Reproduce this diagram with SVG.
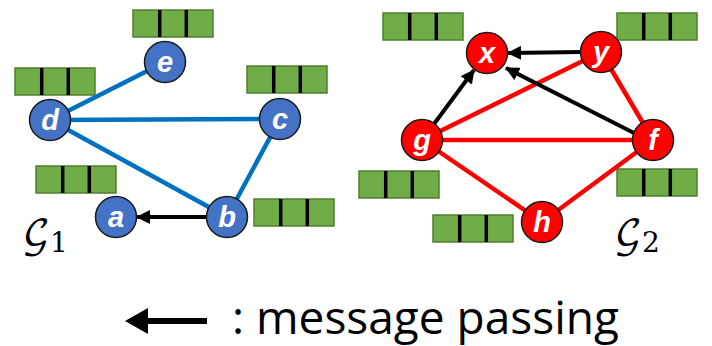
<svg xmlns="http://www.w3.org/2000/svg" width="712" height="346" viewBox="0 0 712 346">
<defs>
<marker id="ah" markerUnits="userSpaceOnUse" markerWidth="14" markerHeight="14" viewBox="0 0 14 14" refX="13" refY="7" orient="auto"><path d="M0,0 L14,7 L0,14 Z" fill="#000"/></marker>
<g id="vec"><rect x="0" y="0" width="80" height="27" fill="#70AD47" stroke="#507E32" stroke-width="1.5"/><line x1="26.7" y1="0" x2="26.7" y2="27" stroke="#000" stroke-width="3.5"/><line x1="53.3" y1="0" x2="53.3" y2="27" stroke="#000" stroke-width="3.5"/></g>
</defs>
<style>
.be{stroke:#0070C0;stroke-width:4.5;fill:none}
.re{stroke:#FF0000;stroke-width:4.5;fill:none}
.ar{stroke:#000;stroke-width:4;fill:none;marker-end:url(#ah)}
.bn{fill:#4472C4;stroke:#1a1a1a;stroke-width:1.5}
.rn{fill:#FF0000;stroke:#1a1a1a;stroke-width:1.5}
.lb{font-family:"Liberation Sans",Arial,sans-serif;font-weight:bold;font-style:italic;font-size:29px;fill:#fff;text-anchor:middle}
.gl{font-family:"DejaVu Math TeX Gyre","DejaVu Serif",serif;font-size:37px;fill:#000}
.cap{font-family:"Open Sans","Liberation Sans",sans-serif;font-size:46px;fill:#000}
</style>
<g id="vectors">
<use href="#vec" x="133" y="10"/>
<use href="#vec" x="15" y="68"/>
<use href="#vec" x="247" y="66"/>
<use href="#vec" x="36" y="166"/>
<use href="#vec" x="254" y="199"/>
<use href="#vec" x="383" y="13"/>
<use href="#vec" x="617" y="13"/>
<use href="#vec" x="359" y="171"/>
<use href="#vec" x="617" y="169"/>
<use href="#vec" x="433" y="215"/>
</g>
<g id="connectors">
<line class="be" x1="165" y1="62" x2="50" y2="120"/>
<line class="be" x1="50" y1="120" x2="280" y2="119"/>
<line class="be" x1="50" y1="120" x2="227" y2="217"/>
<line class="be" x1="280" y1="119" x2="227" y2="217"/>
<line class="ar" x1="208" y1="217" x2="137" y2="217"/>
<line class="re" x1="422" y1="140" x2="601" y2="52"/>
<line class="re" x1="422" y1="140" x2="653" y2="140"/>
<line class="re" x1="422" y1="140" x2="542" y2="222"/>
<line class="re" x1="542" y1="222" x2="653" y2="140"/>
<line class="re" x1="601" y1="52" x2="653" y2="140"/>
<line class="ar" x1="581" y1="52" x2="508" y2="53"/>
<line class="ar" x1="434" y1="124" x2="474" y2="70"/>
<line class="ar" x1="636" y1="134" x2="506" y2="68"/>
</g>
<g id="node-a"><circle class="bn" cx="116" cy="217" r="20.5"/><text class="lb" x="116" y="227">a</text></g>
<g id="node-b"><circle class="bn" cx="227" cy="217" r="20.5"/><text class="lb" x="227" y="227">b</text></g>
<g id="node-c"><circle class="bn" cx="280" cy="119" r="20.5"/><text class="lb" x="280" y="129">c</text></g>
<g id="node-d"><circle class="bn" cx="50" cy="120" r="20.5"/><text class="lb" x="50" y="130">d</text></g>
<g id="node-e"><circle class="bn" cx="165" cy="62" r="20.5"/><text class="lb" x="165" y="72">e</text></g>
<g id="node-x"><circle class="rn" cx="487" cy="53" r="20.5"/><text class="lb" x="487" y="63">x</text></g>
<g id="node-y"><circle class="rn" cx="601" cy="52" r="20.5"/><text class="lb" x="601" y="62">y</text></g>
<g id="node-g"><circle class="rn" cx="422" cy="140" r="20.5"/><text class="lb" x="422" y="150">g</text></g>
<g id="node-f"><circle class="rn" cx="653" cy="140" r="20.5"/><text class="lb" x="653" y="150">f</text></g>
<g id="node-h"><circle class="rn" cx="542" cy="222" r="20.5"/><text class="lb" x="542" y="232">h</text></g>
<g id="labels">
<text class="gl" x="22" y="246">𝒢<tspan font-size="28" dy="6">1</tspan></text>
<text class="gl" x="614" y="246">𝒢<tspan font-size="28" dy="6">2</tspan></text>
</g>
<g id="legend">
<line x1="146" y1="321" x2="207" y2="321" stroke="#000" stroke-width="6"/>
<path d="M125,321 L148,308 L148,334 Z" fill="#000"/>
<text class="cap" x="232" y="334">: message passing</text>
</g>
</svg>
